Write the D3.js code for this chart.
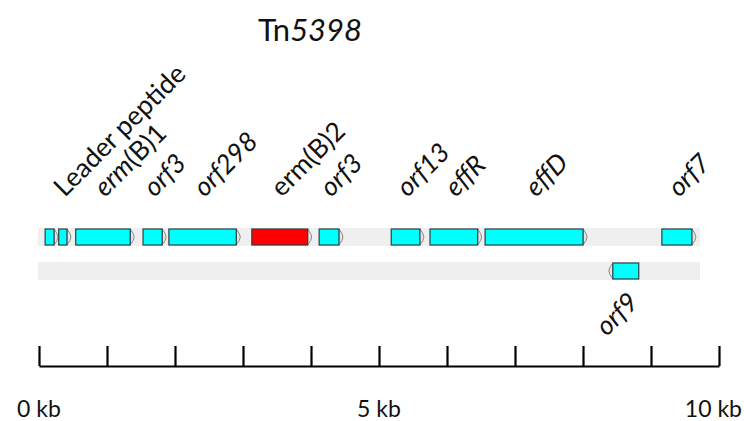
<!DOCTYPE html>
<html>
<head>
<meta charset="utf-8">
<script src="https://cdn.jsdelivr.net/npm/d3@7"></script>
<style>
  body { margin: 0; background: #fff; }
  text { font-family: Lato, "Open Sans", sans-serif; fill: #111; }
</style>
</head>
<body>
<div id="map"></div>
<script>
// gene positions in kb
const geneStart = [0.09, 0.29, 0.54, 1.53, 1.91, 3.13, 4.12, 5.18, 5.75, 6.56, 8.38, 9.16];
const geneEnd   = [0.28, 0.47, 1.40, 1.87, 2.96, 4.01, 4.47, 5.66, 6.51, 8.06, 8.82, 9.66];
const geneStrand = [1, 1, 1, 1, 1, 1, 1, 1, 1, 1, -1, 1];
const geneTrack  = [0, 0, 0, 0, 0, 0, 0, 0, 0, 0, 1, 0];
const geneKind   = ["other", "other", "other", "other", "other", "erm", "other", "other", "other", "other", "other", "other"];
// label = italic part + upright part
const labelItalic = ["", "", "erm", "orf3", "orf298", "", "orf3", "orf13", "effR", "effD", "orf9", "orf7"];
const labelRoman  = ["", "Leader peptide", "(B)1", "", "", "erm(B)2", "", "", "", "", "", ""];

const tracks = [0, 1];
const trackLength = [9.72, 9.72];
const scaleTicks = [0, 1, 2, 3, 4, 5, 6, 7, 8, 9, 10];
const scaleLabels = [0, 5, 10];

const width = 744, height = 421;

const svg = d3.select("#map").append("svg")
  .attr("width", width)
  .attr("height", height);

const x = d3.scaleLinear().domain([0, 10]).range([39, 719]);
const y = d3.scaleBand().domain(tracks).range([228, 280]).paddingInner(0.47).paddingOuter(0);

const color = d3.scaleOrdinal().domain(["other", "erm"]).range(["#00ffff", "#ff0000"]);

// title
svg.append("text")
  .attr("x", 310)
  .attr("y", 41)
  .attr("text-anchor", "middle")
  .style("font-size", "31px")
  .call(function (t) {
    t.append("tspan").text("Tn");
    t.append("tspan").style("font-style", "italic").text("5398");
  });

// grey tracks
svg.selectAll("rect.track")
  .data(tracks)
  .enter().append("rect")
  .attr("class", "track")
  .attr("x", x(0) - 1)
  .attr("y", function (d) { return y(d); })
  .attr("width", function (d, i) { return x(trackLength[i]) - x(0) + 1; })
  .attr("height", y.bandwidth())
  .attr("fill", "#efefef");

const genes = geneStart.map(function (s, i) {
  return {
    start: s, end: geneEnd[i], strand: geneStrand[i], track: geneTrack[i],
    kind: geneKind[i], it: labelItalic[i], rm: labelRoman[i]
  };
});

const tip = 4;
const g = svg.append("g");

genes.forEach(function (d) {
  const x0 = x(d.start), x1 = x(d.end);
  const top = y(d.track) + 1, h = y.bandwidth() - 2, mid = top + h / 2;
  let bx, tipPath;
  if (d.strand > 0) {
    bx = x0;
    tipPath = "M" + (x1 - tip) + "," + top + "Q" + x1 + "," + (mid - 3) + " " + x1 + "," + mid +
      "Q" + x1 + "," + (mid + 3) + " " + (x1 - tip) + "," + (top + h);
  } else {
    bx = x0 + tip;
    tipPath = "M" + (x0 + tip) + "," + top + "Q" + x0 + "," + (mid - 3) + " " + x0 + "," + mid +
      "Q" + x0 + "," + (mid + 3) + " " + (x0 + tip) + "," + (top + h);
  }
  g.append("path")
    .attr("d", tipPath + "Z")
    .attr("fill", "#e4e4e4")
    .attr("stroke", "#8a8a8a")
    .attr("stroke-width", 1);
  g.append("rect")
    .attr("x", bx)
    .attr("y", top)
    .attr("width", x1 - x0 - tip)
    .attr("height", h)
    .attr("fill", color(d.kind))
    .attr("stroke", "#2f3f3f")
    .attr("stroke-width", 1.2);
});

// labels
const labels = svg.append("g").style("font-size", "26.5px");
genes.filter(function (d) { return d.it || d.rm; }).forEach(function (d) {
  const cx = (x(d.start) + x(d.end)) / 2;
  let lx, ly, anchor;
  if (d.track === 0) {
    lx = cx; ly = y(0) - 30; anchor = "start";
  } else {
    lx = cx + 16; ly = y(1) + y.bandwidth() + 24; anchor = "end";
  }
  const t = labels.append("text")
    .attr("text-anchor", anchor)
    .attr("transform", "translate(" + lx + "," + ly + ")rotate(-45)");
  if (d.it) t.append("tspan").style("font-style", "italic").text(d.it);
  if (d.rm) t.append("tspan").text(d.rm);
});

// scale bar
const axis = d3.axisTop(x)
  .tickValues(scaleTicks)
  .tickSizeInner(20)
  .tickSizeOuter(0)
  .tickFormat("");

svg.append("g")
  .attr("transform", "translate(0,366)")
  .call(axis)
  .call(function (a) {
    a.selectAll("path, line").attr("stroke", "#000").attr("stroke-width", 2.2);
  });

svg.selectAll("text.kb")
  .data(scaleLabels)
  .enter().append("text")
  .attr("class", "kb")
  .attr("y", 417)
  .attr("text-anchor", "middle")
  .style("font-size", "23px")
  .text(function (d) { return d + " kb"; })
  .attr("x", function (d) {
    // keep the label inside the picture
    const w = this.getComputedTextLength();
    return Math.min(x(d), width - 2 - w / 2);
  });
</script>
</body>
</html>
